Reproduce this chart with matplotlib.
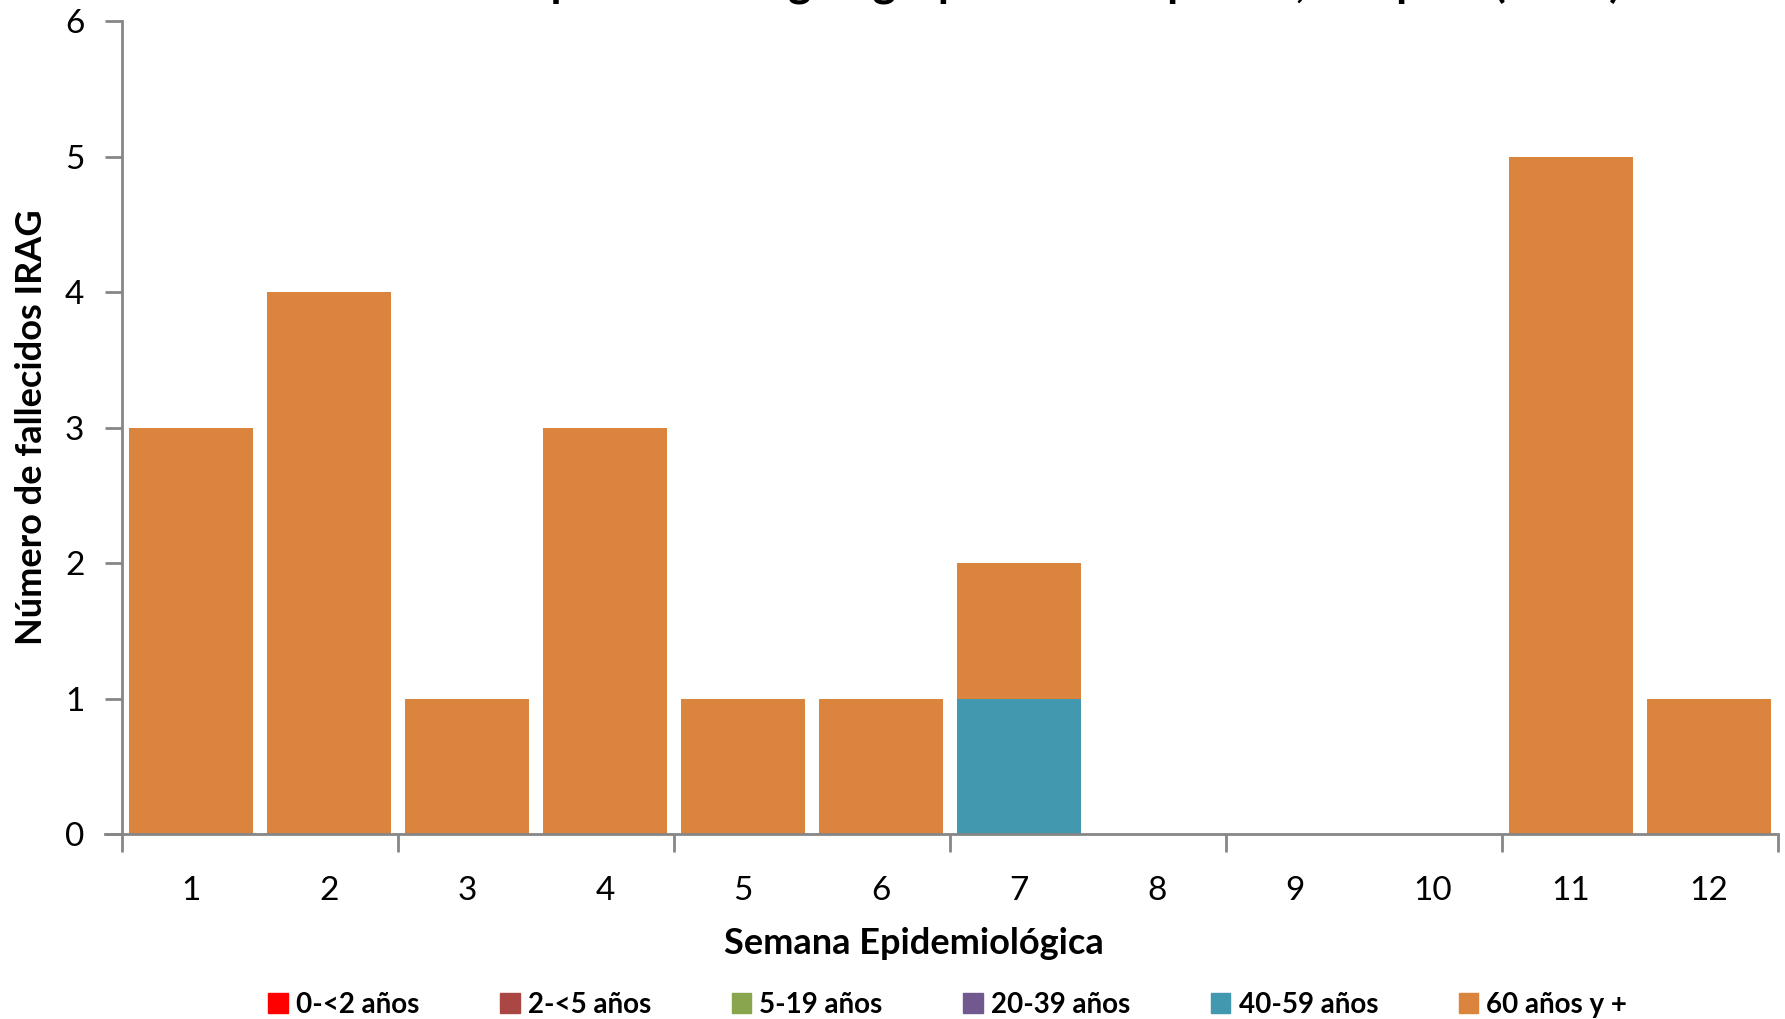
import matplotlib.pyplot as plt
from matplotlib.patches import Patch
from matplotlib.ticker import MultipleLocator, FixedLocator
import numpy as np

plt.rcParams['font.family'] = ['Lato', 'DejaVu Sans']

semanas = np.arange(1, 13)
grupos = ['0-<2 años', '2-<5 años', '5-19 años', '20-39 años', '40-59 años', '60 años y +']
colores = ['#FF0000', '#AA4643', '#89A54E', '#71588F', '#4198AF', '#DB843D']
g0_2 = [0, 0, 0, 0, 0, 0, 0, 0, 0, 0, 0, 0]
g2_5 = [0, 0, 0, 0, 0, 0, 0, 0, 0, 0, 0, 0]
g5_19 = [0, 0, 0, 0, 0, 0, 0, 0, 0, 0, 0, 0]
g20_39 = [0, 0, 0, 0, 0, 0, 0, 0, 0, 0, 0, 0]
g40_59 = [0, 0, 0, 0, 0, 0, 1, 0, 0, 0, 0, 0]
g60 = [3, 4, 1, 3, 1, 1, 1, 0, 0, 0, 5, 1]
series = [g0_2, g2_5, g5_19, g20_39, g40_59, g60]

fig = plt.figure(figsize=(17.85, 10.19), dpi=100)
ax = fig.add_axes([0.0683, 0.1816, 0.9277, 0.7974])

base = np.zeros(len(semanas))
for vals, col in zip(series, colores):
    ax.bar(semanas, vals, 0.9, bottom=base, color=col, linewidth=0)
    base = base + np.array(vals)

ax.set_xlim(0.5, 12.5)
ax.set_ylim(0, 6)
ax.yaxis.set_major_locator(MultipleLocator(1))
ax.set_xticks(semanas)
ax.set_xticklabels([str(s) for s in semanas])
ax.xaxis.set_minor_locator(FixedLocator(np.arange(0.5, 13, 2)))

gris = '#868686'
for s in ['top', 'right']:
    ax.spines[s].set_visible(False)
for s in ['left', 'bottom']:
    ax.spines[s].set_color(gris)
    ax.spines[s].set_linewidth(2)
ax.spines['bottom'].set_bounds(0.5 - 0.12, 12.5)

ax.tick_params(axis='x', which='major', length=0, pad=30, labelsize=24)
ax.tick_params(axis='x', which='minor', length=13, width=2, color=gris, direction='out')
ax.tick_params(axis='y', length=12, width=2, color=gris, direction='out', pad=15, labelsize=24)

ax.set_xlabel('Semana Epidemiológica', fontsize=26, fontweight='bold', labelpad=20)
ax.xaxis.set_label_coords(0.478, -0.115)
ax.set_ylabel('Número de fallecidos IRAG', fontsize=26, fontweight='bold', labelpad=12)

fig.text(0.55, 1.002, 'Fallecidos por IRAG según grupo de edad por SE, Hospital (2014)',
         ha='center', va='baseline', fontsize=32, fontweight='bold')

handles = [Patch(color=c) for c in colores]
fig.legend(handles, grupos, loc='center', bbox_to_anchor=(0.531, 0.014), ncol=6,
           frameon=False, prop={'size': 20, 'weight': 'bold'},
           handlelength=0.7, handleheight=0.7, handletextpad=0.3, columnspacing=2.9)

fig.savefig('out.png', dpi=100)
